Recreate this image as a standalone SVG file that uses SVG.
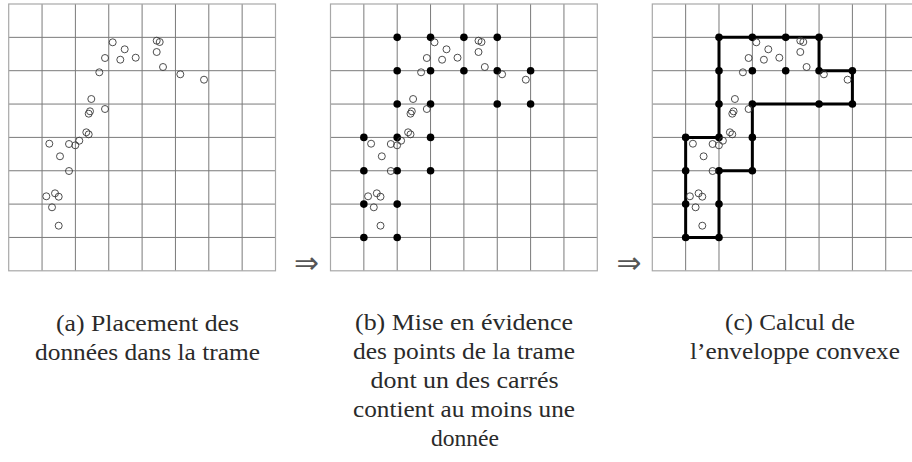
<svg xmlns="http://www.w3.org/2000/svg" xmlns:xlink="http://www.w3.org/1999/xlink" width="912" height="462" viewBox="0 0 912 462">
<style>
.bg{fill:#ffffff}
.gl{stroke:#7a7a7a;stroke-width:1;fill:none}
.gb{stroke:#a8a8a8;stroke-width:1.2;fill:none}
.pt{fill:none;stroke:#3a3a3a;stroke-width:0.9}
.dot{fill:#000000}
.hull{fill:none;stroke:#000000;stroke-width:3;stroke-linejoin:miter}
.cap{font-family:"Liberation Serif","Times New Roman",serif;font-size:24px;fill:#2a2a2a;text-anchor:middle}
.arr{font-family:"DejaVu Sans",sans-serif;font-size:30px;fill:#555555}
</style>
<defs>
<g id="grid">
<path class="gl" d="M33.35 0V266.8M66.7 0V266.8M100.05 0V266.8M133.4 0V266.8M166.75 0V266.8M200.1 0V266.8M233.45 0V266.8M0 33.35H266.8M0 66.7H266.8M0 100.05H266.8M0 133.4H266.8M0 166.75H266.8M0 200.1H266.8M0 233.45H266.8"/>
<rect class="gb" x="0" y="0" width="266.8" height="266.8"/>
</g>
<g id="data">
<circle class="pt" cx="104" cy="38.3" r="3.5"/>
<circle class="pt" cx="116" cy="45.3" r="3.5"/>
<circle class="pt" cx="96.3" cy="54" r="3.5"/>
<circle class="pt" cx="111.6" cy="55.7" r="3.5"/>
<circle class="pt" cx="127" cy="53.7" r="3.5"/>
<circle class="pt" cx="148" cy="36.7" r="3.5"/>
<circle class="pt" cx="151" cy="38" r="3.5"/>
<circle class="pt" cx="148" cy="48" r="3.5"/>
<circle class="pt" cx="154.3" cy="63" r="3.5"/>
<circle class="pt" cx="171.6" cy="70.3" r="3.5"/>
<circle class="pt" cx="195.3" cy="75.7" r="3.5"/>
<circle class="pt" cx="90.6" cy="68.3" r="3.5"/>
<circle class="pt" cx="82.6" cy="95" r="3.5"/>
<circle class="pt" cx="81.3" cy="107.3" r="3.5"/>
<circle class="pt" cx="80" cy="109.7" r="3.5"/>
<circle class="pt" cx="96.3" cy="105" r="3.5"/>
<circle class="pt" cx="77.6" cy="128.3" r="3.5"/>
<circle class="pt" cx="80" cy="130.3" r="3.5"/>
<circle class="pt" cx="70.6" cy="136.7" r="3.5"/>
<circle class="pt" cx="66.6" cy="141.3" r="3.5"/>
<circle class="pt" cx="60.3" cy="140" r="3.5"/>
<circle class="pt" cx="40.6" cy="139.7" r="3.5"/>
<circle class="pt" cx="51.3" cy="152.3" r="3.5"/>
<circle class="pt" cx="60.3" cy="167" r="3.5"/>
<circle class="pt" cx="37.6" cy="192.3" r="3.5"/>
<circle class="pt" cx="46.3" cy="189.3" r="3.5"/>
<circle class="pt" cx="50" cy="192.7" r="3.5"/>
<circle class="pt" cx="43.3" cy="203.3" r="3.5"/>
<circle class="pt" cx="50" cy="221.7" r="3.5"/>
</g>
<g id="dots">
<circle class="dot" cx="66.7" cy="33.35" r="3.8"/>
<circle class="dot" cx="100.05" cy="33.35" r="3.8"/>
<circle class="dot" cx="133.4" cy="33.35" r="3.8"/>
<circle class="dot" cx="166.75" cy="33.35" r="3.8"/>
<circle class="dot" cx="66.7" cy="66.7" r="3.8"/>
<circle class="dot" cx="100.05" cy="66.7" r="3.8"/>
<circle class="dot" cx="133.4" cy="66.7" r="3.8"/>
<circle class="dot" cx="166.75" cy="66.7" r="3.8"/>
<circle class="dot" cx="200.1" cy="66.7" r="3.8"/>
<circle class="dot" cx="66.7" cy="100.05" r="3.8"/>
<circle class="dot" cx="100.05" cy="100.05" r="3.8"/>
<circle class="dot" cx="166.75" cy="100.05" r="3.8"/>
<circle class="dot" cx="200.1" cy="100.05" r="3.8"/>
<circle class="dot" cx="33.35" cy="133.4" r="3.8"/>
<circle class="dot" cx="66.7" cy="133.4" r="3.8"/>
<circle class="dot" cx="100.05" cy="133.4" r="3.8"/>
<circle class="dot" cx="33.35" cy="166.75" r="3.8"/>
<circle class="dot" cx="66.7" cy="166.75" r="3.8"/>
<circle class="dot" cx="100.05" cy="166.75" r="3.8"/>
<circle class="dot" cx="33.35" cy="200.1" r="3.8"/>
<circle class="dot" cx="66.7" cy="200.1" r="3.8"/>
<circle class="dot" cx="33.35" cy="233.45" r="3.8"/>
<circle class="dot" cx="66.7" cy="233.45" r="3.8"/>
</g>
</defs>
<rect class="bg" x="0" y="0" width="912" height="462"/>

<g id="panel-a" transform="translate(8.7,4)">
<use xlink:href="#grid" href="#grid"/>
<use xlink:href="#data" href="#data"/>
</g>

<g id="panel-b" transform="translate(330.5,4)">
<use xlink:href="#grid" href="#grid"/>
<use xlink:href="#dots" href="#dots"/>
<use xlink:href="#data" href="#data"/>
</g>

<g id="panel-c" transform="translate(652.3,4)">
<use xlink:href="#grid" href="#grid"/>
<polygon class="hull" points="66.7,33.35 166.75,33.35 166.75,66.7 200.1,66.7 200.1,100.05 100.05,100.05 100.05,166.75 66.7,166.75 66.7,233.45 33.35,233.45 33.35,133.4 66.7,133.4"/>
<use xlink:href="#dots" href="#dots"/>
<use xlink:href="#data" href="#data"/>
</g>

<g id="arrows">
<text class="arr" x="294" y="273" textLength="25" lengthAdjust="spacingAndGlyphs">⇒</text>
<text class="arr" x="616.5" y="273" textLength="25" lengthAdjust="spacingAndGlyphs">⇒</text>
</g>

<g id="caption-a">
<text class="cap" x="147.5" y="331" textLength="183" lengthAdjust="spacingAndGlyphs">(a) Placement des</text>
<text class="cap" x="147.5" y="360" textLength="225" lengthAdjust="spacingAndGlyphs">données dans la trame</text>
</g>
<g id="caption-b">
<text class="cap" x="464" y="330" textLength="218" lengthAdjust="spacingAndGlyphs">(b) Mise en évidence</text>
<text class="cap" x="464" y="359" textLength="222" lengthAdjust="spacingAndGlyphs">des points de la trame</text>
<text class="cap" x="464.5" y="388" textLength="188" lengthAdjust="spacingAndGlyphs">dont un des carrés</text>
<text class="cap" x="464" y="417" textLength="222" lengthAdjust="spacingAndGlyphs">contient au moins une</text>
<text class="cap" x="465" y="446" textLength="68" lengthAdjust="spacingAndGlyphs">donnée</text>
</g>
<g id="caption-c">
<text class="cap" x="790" y="330" textLength="130" lengthAdjust="spacingAndGlyphs">(c) Calcul de</text>
<text class="cap" x="795" y="359" textLength="210" lengthAdjust="spacingAndGlyphs">l’enveloppe convexe</text>
</g>
</svg>
